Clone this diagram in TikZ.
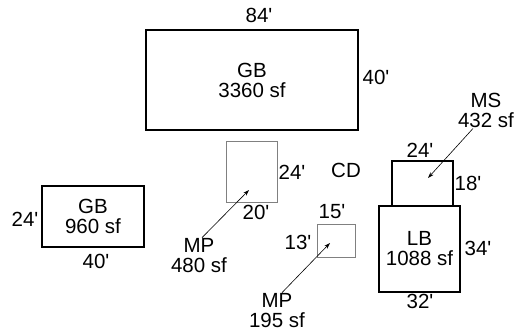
\documentclass[tikz,border=0pt]{standalone}
\usepackage{fontspec}
\setmainfont{Liberation Sans}
\usepackage{tikz}
\usetikzlibrary{arrows.meta}
\definecolor{shedgray}{rgb}{0.5, 0.5, 0.5}
\newcommand{\ft}{\textquotesingle}

\begin{document}
\begin{tikzpicture}[x=1pt,y=-1pt,>={Stealth[length=6pt,width=4pt]},
    font=\fontsize{20.5pt}{20pt}\selectfont]
        \tikzstyle{bldg}=[draw,line width=1.1pt,inner sep=0pt,align=center]
        \tikzstyle{shed}=[draw=shedgray,line width=0.9pt,inner sep=0pt]
        \tikzstyle{dim}=[inner sep=1pt]
        \tikzstyle{tag}=[inner sep=1pt,align=center]
        \tikzstyle{pointer}=[->,line width=0.6pt]
        \useasboundingbox (0,0) rectangle (516,334);

        % Big building at the top
        \node (gbbig)[bldg, minimum width=212pt, minimum height=100pt] at (252,80) {GB\\3360 sf};
        \node (gbbigw)[dim] at (259,15) {84\ft};
        \node (gbbigh)[dim] at (376,77) {40\ft};

        % Small building on the left
        \node (gbsmall)[bldg, minimum width=102pt, minimum height=61pt] at (93,216.5) {GB\\960 sf};
        \node (gbsmallh)[dim] at (25,219) {24\ft};
        \node (gbsmallw)[dim] at (96,261) {40\ft};

        % Upper machine pad
        \node (mpa)[shed, minimum width=51pt, minimum height=61pt] at (251.5,171.5) {};
        \node (mpah)[dim] at (292,172) {24\ft};
        \node (mpaw)[dim] at (256,212) {20\ft};
        \coordinate (mpatip) at (249,190);
        \node (mpalbl)[tag] at (199,256) {MP\\480 sf};

        % Lower machine pad
        \node (mpb)[shed, minimum width=38pt, minimum height=33pt] at (336,240.5) {};
        \node (mpbw)[dim] at (332,212) {15\ft};
        \node (mpbh)[dim] at (298,242) {13\ft};
        \coordinate (mpbtip) at (330,243);
        \node (mpblbl)[tag] at (277,311) {MP\\195 sf};

        \node (cd)[dim] at (346,170) {CD};

        % Shed and barn on the right
        \node (ms)[bldg, minimum width=61pt, minimum height=45pt] at (422.5,183.5) {};
        \node (msw)[dim] at (420,150) {24\ft};
        \node (msh)[dim] at (468,183) {18\ft};
        \coordinate (mstip) at (428,178);
        \node (mslbl)[tag] at (486,110) {MS\\432 sf};

        \node (lb)[bldg, minimum width=81pt, minimum height=86pt] at (419.5,249) {LB\\1088 sf};
        \node (lbh)[dim] at (478,248) {34\ft};
        \node (lbw)[dim] at (420,301) {32\ft};

        % --- Pointers from the labels ---
        \draw[pointer] ([xshift=3pt]mpalbl.north) -- (mpatip);
        \draw[pointer] ([xshift=5pt]mpblbl.north) -- (mpbtip);
        \draw[pointer] ([xshift=-13pt]mslbl.south) -- (mstip);
    \end{tikzpicture}
\end{document}
